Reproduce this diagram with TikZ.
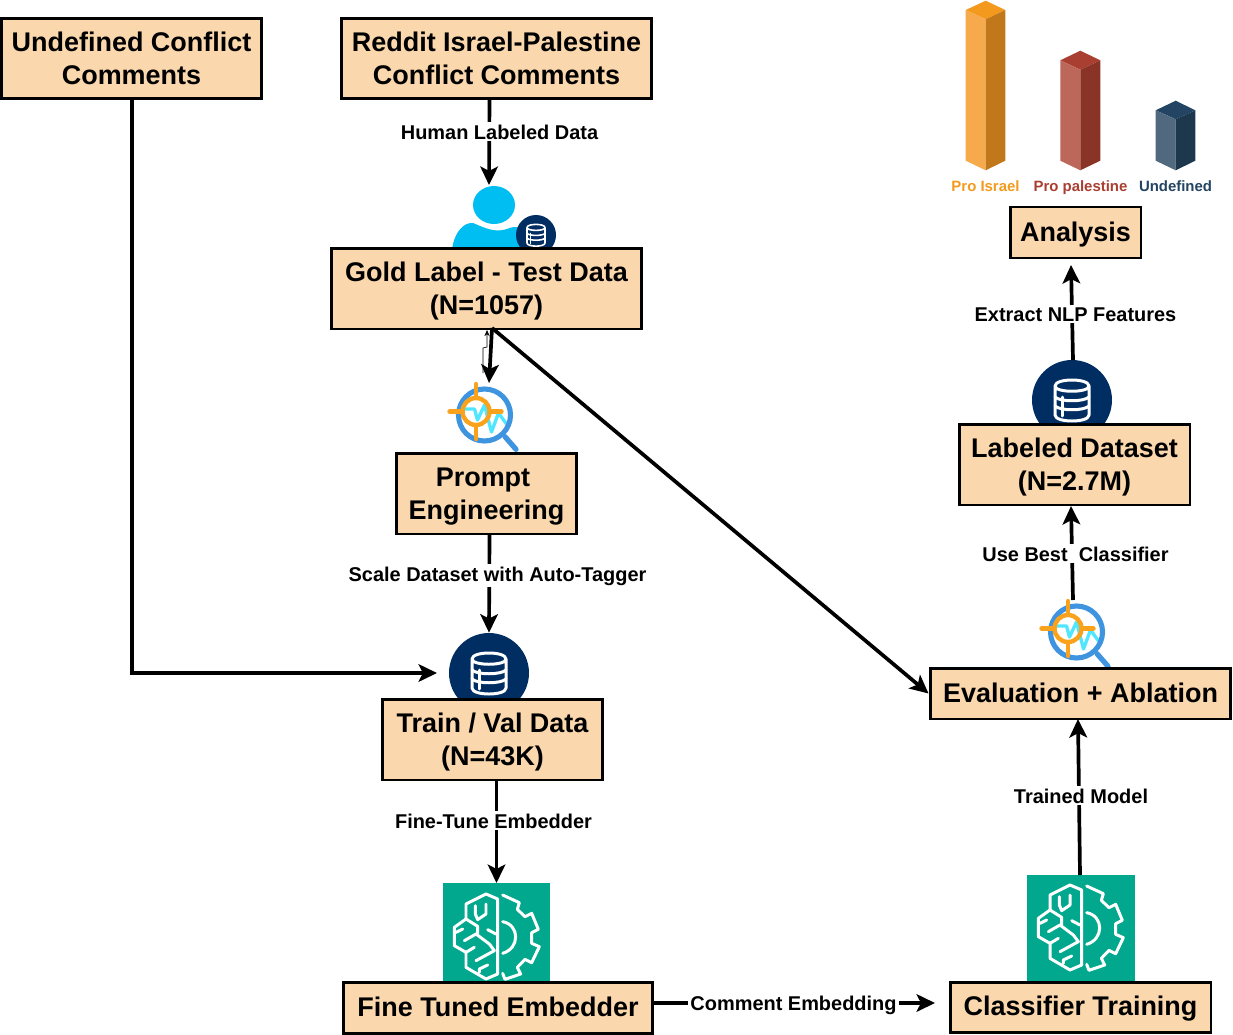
\documentclass[tikz,border=0pt]{standalone}
\usepackage{fontspec}
\setmainfont{Liberation Sans}
\usetikzlibrary{arrows.meta,calc}
\definecolor{boxfill}{HTML}{FAD7AC}
\definecolor{navy}{HTML}{002D62}
\definecolor{sky}{HTML}{00BEF2}
\definecolor{teal}{HTML}{01A88D}
\definecolor{ringblue}{HTML}{3F94E0}
\definecolor{ringorange}{HTML}{FAA21B}
\definecolor{wavecyan}{HTML}{50E6FF}
\definecolor{orT}{HTML}{F39A1E}\definecolor{orL}{HTML}{F6AA4B}\definecolor{orR}{HTML}{C1781A}
\definecolor{reT}{HTML}{A93F31}\definecolor{reL}{HTML}{BD665A}\definecolor{reR}{HTML}{8A3327}
\definecolor{blT}{HTML}{234563}\definecolor{blL}{HTML}{50697F}\definecolor{blR}{HTML}{1D374C}
\tikzset{
  box/.style={draw=black,fill=boxfill,line width=1.7pt,inner sep=0pt,align=center,text depth=0pt,
    font=\fontsize{15.35}{18.7}\selectfont\bfseries},
  conn/.style={draw=black,line width=2.1pt,-{Stealth[length=10.5pt,width=10pt,inset=2.5pt]}},
  lbl/.style={anchor=base,fill=white,inner sep=1.2pt,font=\fontsize{11.35}{13}\selectfont\bfseries},
  barlbl/.style={anchor=base,inner sep=0pt,font=\fontsize{8.5}{10}\selectfont\bfseries},
  dbdisc/.style={circle,fill=navy,inner sep=0pt},
}
% white database glyph
\newcommand{\dbglyph}[4]{%
 \begin{scope}[shift={(#1,#2)},scale=#3,draw=white,line width=#4,line cap=round,line join=round]
  \draw (-17,-14) .. controls (-17,-22) and (17,-22) .. (17,-14) .. controls (17,-7) and (-17,-7) .. (-17,-14) -- (-17,15)
        .. controls (-17,23) and (17,23) .. (17,15) -- (17,-14);
  \draw (-17,-3) .. controls (-12,2) and (12,2) .. (17,-3);
  \draw (-17,6) .. controls (-12,11) and (12,11) .. (17,6);
  \draw (-10,-3) -- (-10,16);
 \end{scope}}
% target / magnifier glyph, origin at centre of blue ring
\newcommand{\targetglyph}[2]{%
 \begin{scope}[shift={(#1,#2)},line cap=round,line join=round]
  \draw[wavecyan,line width=1.9pt] (-20,-6) -- (-10,-6) -- (-7,5) -- (0,-10) -- (7,17) -- (14,-2) -- (22,9);
  \draw[ringblue,line width=2.9pt] (0,0) circle (26);
  \draw[ringblue,line width=3pt] (20.5,21.7) -- (31.5,34.3);
  \draw[ringorange,line width=2.5pt] (-8.5,-3.5) circle (13.5);
  \draw[ringorange,line width=2.5pt] (-35,-3.5) -- (-22,-3.5) (5,-3.5) -- (17,-3.5) (-8.5,-31) -- (-8.5,-19) (-8.5,12) -- (-8.5,24);
 \end{scope}}
% brain and gear glyph, drawn in units of 1/3 pixel
\newcommand{\brainglyph}[2]{%
 \begin{scope}[shift={(#1,#2)},scale=0.3333,draw=white,line width=1.7pt,line cap=round,line join=round]
  \draw (203,57) -- (168,42) -- (108,72) -- (108,117) -- (73,142) -- (73,197) -- (108,217) -- (108,262) -- (168,297) -- (203,282) -- cycle;
  \draw (136,77) -- (136,102) -- (143,119) -- (168,102) -- (168,72);
  \draw (108,117) -- (143,139) -- (143,162);
  \draw (173,149) -- (198,162);
  \draw (78,157) -- (98,147);
  \draw (103,182) -- (138,162) -- (178,192) -- (193,212) -- (138,242);
  \draw (108,217) -- (133,202);
  \draw (148,277) -- (148,267) -- (173,255);
  \draw (218,45) -- (268,68) -- (262,88) -- (285,110) -- (305,100) -- (325,148) -- (305,158) -- (305,190) -- (328,200) -- (305,248) -- (285,238) -- (262,262) -- (272,282) -- (225,298) -- (218,280);
  \draw (218,125) .. controls (270,135) and (270,205) .. (218,220);
 \end{scope}}
\begin{document}
\begin{tikzpicture}[x=0.02cm,y=-0.02cm]
\useasboundingbox (0,0) rectangle (1233,1034);

% ---- bars
\fill[orT] (985.7,0.7) -- (1005.3,10) -- (985.7,19.3) -- (965.7,10) -- cycle;
\fill[orL] (965.7,10) -- (985.7,19.3) -- (985.7,170.3) -- (965.7,160.7) -- cycle;
\fill[orR] (1005.3,10) -- (985.7,19.3) -- (985.7,170.3) -- (1005.3,160.7) -- cycle;
\fill[reT] (1080.3,50.7) -- (1100.3,60.3) -- (1080.3,69.7) -- (1060.3,60.3) -- cycle;
\fill[reL] (1060.3,60.3) -- (1080.3,69.7) -- (1080.3,170.3) -- (1060.3,160.7) -- cycle;
\fill[reR] (1100.3,60.3) -- (1080.3,69.7) -- (1080.3,170.3) -- (1100.3,160.7) -- cycle;
\fill[blT] (1175.7,100.7) -- (1195.3,110.3) -- (1175.7,119.3) -- (1155.7,110.3) -- cycle;
\fill[blL] (1155.7,110.3) -- (1175.7,119.3) -- (1175.7,170.3) -- (1155.7,160.7) -- cycle;
\fill[blR] (1195.3,110.3) -- (1175.7,119.3) -- (1175.7,170.3) -- (1195.3,160.7) -- cycle;
\node[barlbl,text=orT] (lisr) at (985.5,191) {Pro Israel};
\node[barlbl,text=reT] (lpal) at (1080.5,191) {Pro palestine};
\node[barlbl,text=blT] (lund) at (1175.5,191) {Undefined};

% ---- icons
\fill[sky] (494,205) ellipse [x radius=21,y radius=19];
\fill[sky] (452,250) .. controls (454,232) and (464,222) .. (473,223)
   .. controls (485,228) and (495,233) .. (507,229) .. controls (516,225) and (522,227) .. (526,236) -- (526,250) -- cycle;
\node[dbdisc,minimum size=0.8cm] (dbgold) at (536,235) {};
\dbglyph{536}{235}{0.53}{0.9pt}

\targetglyph{484.5}{415}
\targetglyph{1076.5}{632}

\node[dbdisc,minimum size=1.6cm] (dbtrain) at (489,673) {};
\dbglyph{489}{673}{1}{1.7pt}
\node[dbdisc,minimum size=1.6cm] (dblab) at (1072,400) {};
\dbglyph{1072}{400}{1}{1.7pt}

\node[fill=teal,inner sep=0pt,minimum width=2.16cm,minimum height=1.98cm] (brainA) at (496.5,932.5) {};
\brainglyph{430}{880}
\node[fill=teal,inner sep=0pt,minimum width=2.16cm,minimum height=2.14cm] (brainB) at (1080.5,928.5) {};
\brainglyph{1014}{871}

% ---- boxes
\node[box,minimum width=5.22cm,minimum height=1.62cm] (undef) at (131.5,58.5) {Undefined Conflict\\Comments};
\node[box,minimum width=6.22cm,minimum height=1.62cm] (reddit) at (496.5,58.5) {Reddit Israel-Palestine\\Conflict Comments};
\node[box,minimum width=6.22cm,minimum height=1.62cm] (gold) at (486.5,288.5) {Gold Label - Test Data\\(N=1057)};
\node[box,minimum width=3.62cm,minimum height=1.62cm] (prompt) at (486.5,493.5) {Prompt\rule{4pt}{0pt}\\Engineering};
\node[box,minimum width=4.42cm,minimum height=1.62cm] (train) at (492.5,739.5) {Train / Val Data\\(N=43K)};
\node[box,minimum width=6.2cm,minimum height=1.02cm,text depth=1.1pt] (fine) at (498,1007.5) {Fine Tuned Embedder};
\node[box,minimum width=5.22cm,minimum height=1cm,text depth=1.1pt] (clf) at (1080.5,1007) {Classifier Training};
\node[box,minimum width=6.02cm,minimum height=1.02cm,text depth=1.1pt] (eval) at (1080.5,693.5) {Evaluation + Ablation};
\node[box,minimum width=4.62cm,minimum height=1.62cm] (labeled) at (1074.5,464.5) {Labeled Dataset\\(N=2.7M)};
\node[box,minimum width=2.62cm,minimum height=1.02cm,text depth=1.1pt] (analysis) at (1075.5,232.5) {Analysis};

% ---- named free ends
\coordinate (person) at (489,185);
\coordinate (goldout) at (492,328);
\coordinate (tgtA) at (489,383);
\coordinate (redout) at (489.5,99);
\coordinate (prout) at (489.5,534);
\coordinate (trout) at (496.5,780);
\coordinate (brainAin) at (496.5,883);
\coordinate (undefout) at (132,99);
\coordinate (dbleft) at (437,673);
\coordinate (fineout) at (653,1003);
\coordinate (clfin) at (935,1003);
\coordinate (brainBout) at (1080,875);
\coordinate (evalin) at (1078,719);
\coordinate (tgtB) at (1073,600);
\coordinate (labin) at (1071,506);
\coordinate (dblabout) at (1073,360);
\coordinate (anain) at (1071,265);
\coordinate (thinA) at (483,373);
\coordinate (thinB) at (483,348);
\coordinate (thinC) at (487,347);
\coordinate (thinD) at (487,330);

% ---- connectors
\draw[black,line width=0.4pt,-{Stealth[length=3.5pt,width=3pt]}] (thinA) -- (thinB) -- (thinC) -- (thinD);
\draw[conn] (redout) -- (person);
\draw[conn] (goldout) -- (tgtA);
\draw[conn] (goldout) -- (eval.west);
\draw[conn] (prout) -- (dbtrain.north);
\draw[conn] (undefout) |- (dbleft);
\draw[conn] (trout) -- (brainAin);
\draw[conn] (fineout) -- (clfin);
\draw[conn] (brainBout) -- (evalin);
\draw[conn] (tgtB) -- (labin);
\draw[conn] (dblabout) -- (anain);

% ---- connector labels
\node[lbl] (l1) at (499.5,139) {Human Labeled Data};
\node[lbl] (l2) at (497.5,581) {Scale Dataset with Auto-Tagger};
\node[lbl] (l3) at (493.5,828) {Fine-Tune Embedder};
\node[lbl] (l4) at (793.5,1010) {Comment Embedding};
\node[lbl] (l5) at (1081,803) {Trained Model};
\node[lbl] (l6) at (1075.5,561) {Use Best\ \ Classifier};
\node[lbl] (l7) at (1075.5,321) {Extract NLP Features};
\end{tikzpicture}
\end{document}
